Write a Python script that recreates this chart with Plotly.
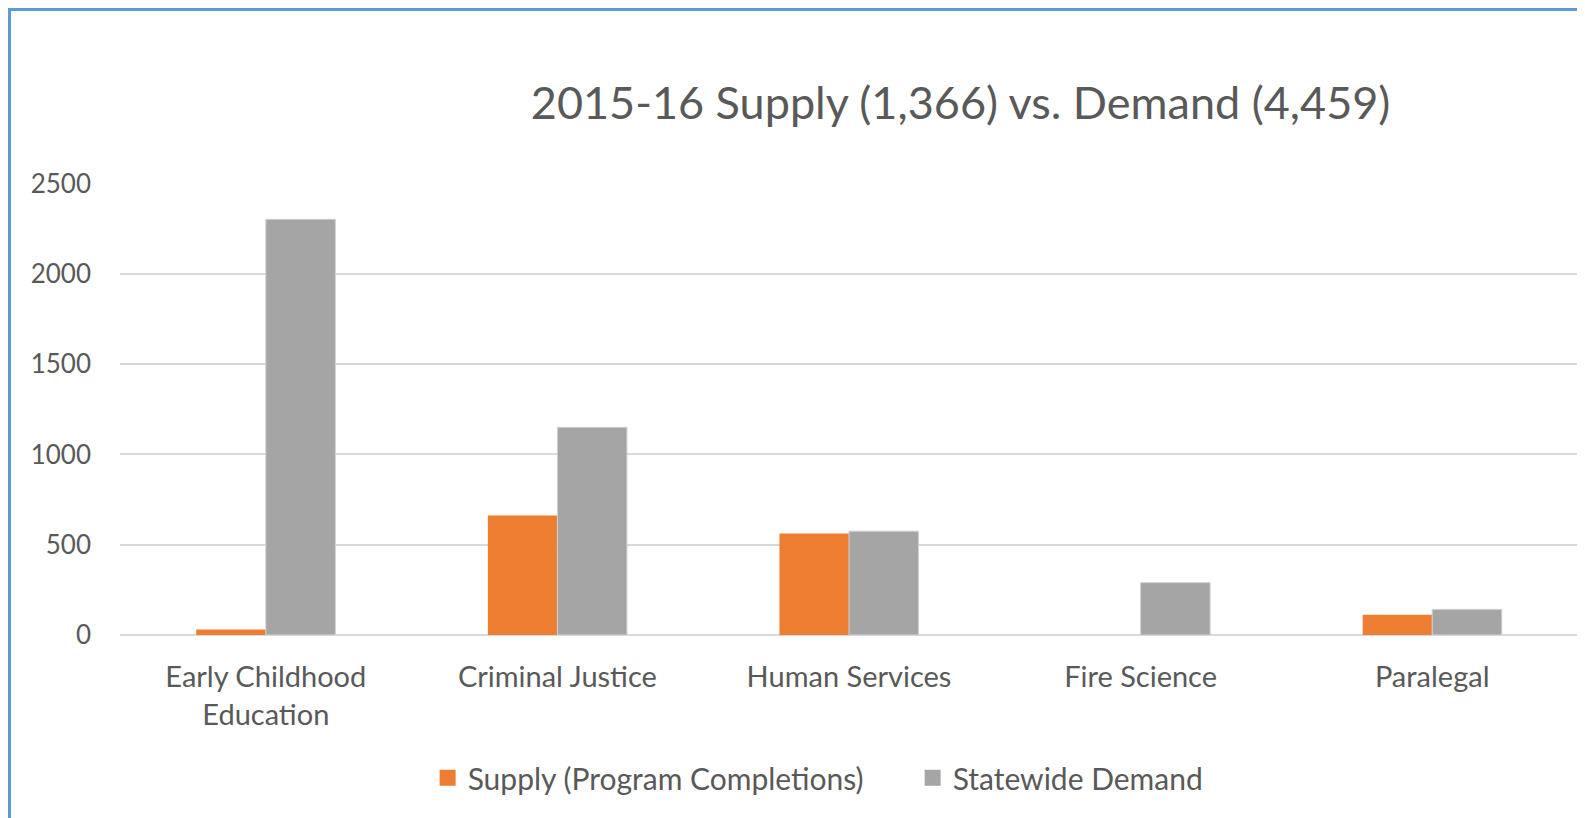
import plotly.graph_objects as go

programs = ["Early Childhood<br>Education", "Criminal Justice", "Human Services", "Fire Science", "Paralegal"]
supply = [30, 662, 562, 0, 112]
demand = [2302, 1150, 575, 290, 142]
y_ticks = [0, 500, 1000, 1500, 2000, 2500]

text_color = "#595959"
orange = "#ED7D31"
gray = "#A5A5A5"
font_family = "Lato, 'Open Sans', sans-serif"

fig = go.Figure()

fig.add_trace(go.Bar(
    x=programs,
    y=supply,
    name="Supply (Program Completions)",
    marker=dict(color=orange, line=dict(width=0)),
    showlegend=False
))

fig.add_trace(go.Bar(
    x=programs,
    y=demand,
    name="Statewide Demand",
    marker=dict(color=gray, line=dict(width=1, color="#D0D0D0")),
    showlegend=False
))

# legend entries with bigger square swatches
for name, color in [("Supply (Program Completions)", orange), ("Statewide Demand", gray)]:
    fig.add_trace(go.Scatter(
        x=[None], y=[None], mode="markers", name=name,
        marker=dict(symbol="square", size=20, color=color)
    ))

fig.update_layout(
    width=1585,
    height=818,
    margin=dict(l=112, r=15, t=175, b=191),
    paper_bgcolor="white",
    plot_bgcolor="white",
    barmode="group",
    bargap=0.523,
    bargroupgap=0,
    font=dict(family=font_family, color=text_color, size=26),
    title=dict(
        text="2015-16 Supply (1,366) vs. Demand (4,459)",
        x=0.601, xanchor="center",
        y=0.883, yanchor="middle",
        font=dict(size=45, color=text_color)
    ),
    legend=dict(
        orientation="h",
        x=0.211, xanchor="left",
        y=-0.316, yanchor="middle",
        font=dict(size=30, color=text_color),
        itemwidth=30,
        entrywidth=440,
        traceorder="normal"
    ),
    shapes=[dict(
        type="rect", xref="paper", yref="paper",
        x0=-0.0758, x1=1.05, y0=-0.5, y1=1.3839,
        line=dict(color="#5B9BD5", width=3),
        fillcolor="rgba(0,0,0,0)"
    )]
)

fig.update_yaxes(
    range=[0, 2503],
    tickvals=y_ticks,
    showgrid=True,
    gridcolor="#D9D9D9",
    gridwidth=1.5,
    zeroline=True,
    zerolinecolor="#D9D9D9",
    zerolinewidth=1.5,
    showline=False,
    ticklabelstandoff=28,
    tickfont=dict(size=26, color=text_color)
)

fig.update_xaxes(
    showgrid=False,
    showline=False,
    ticklabelstandoff=22,
    tickfont=dict(size=29, color=text_color)
)

fig.write_html("out.html")
